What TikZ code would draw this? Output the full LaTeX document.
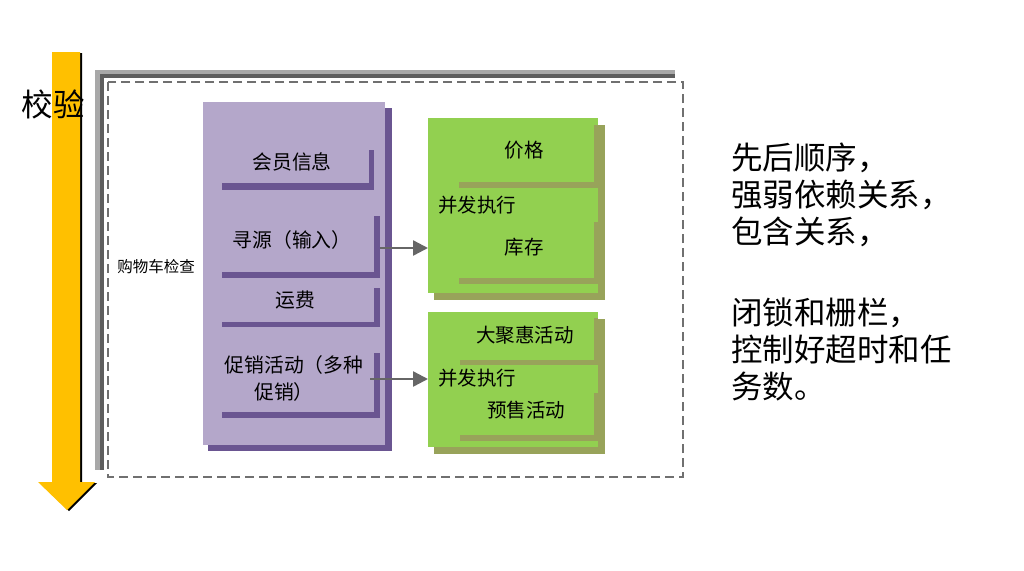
\documentclass[tikz,border=0pt]{standalone}
\usepackage{fontspec}
\newfontfamily\cjk{Noto Sans CJK SC}
\usetikzlibrary{arrows.meta}
\definecolor{gold}{HTML}{FFC000}
\definecolor{pfill}{HTML}{B4A7CA}
\definecolor{pdark}{HTML}{6A5591}
\definecolor{gfill}{HTML}{92D050}
\definecolor{gdark}{HTML}{98A35A}
\definecolor{frlight}{HTML}{A8A8A8}
\definecolor{frdark}{HTML}{5E5E5E}
\definecolor{dashcol}{HTML}{707070}
\definecolor{arrcol}{HTML}{666666}
\tikzset{
  lbl/.style={inner sep=0pt, font=\cjk\fontsize{19.8}{19.8}\selectfont},
  glbl/.style={inner sep=0pt, font=\cjk\fontsize{19.5}{19.5}\selectfont},
  side/.style={inner sep=0pt, anchor=west, font=\cjk\fontsize{31.5}{31.5}\selectfont},
  gbox/.style={fill=gfill, inner sep=0pt, anchor=north west, minimum width=170pt},
  pbox/.style={fill=pfill, inner sep=0pt, anchor=north west, minimum width=182pt, minimum height=343pt},
  conn/.style={draw=arrcol, line width=2.4pt, -{Triangle[length=15pt,width=15pt]}}
}
\begin{document}
\begin{tikzpicture}[x=1pt,y=-1pt]
\useasboundingbox (0,0) rectangle (1024,570);
\fill[white] (0,0) rectangle (1024,570);
% yellow arrow
\fill[black] ([shift={(2,1)}]52,52) -- ++(28,0) -- ++(0,430) -- ++(15,0) -- ++(-28,28) -- ++(-29,-28) -- ++(14,0) -- cycle;
\fill[gold] (52,52) -- (80,52) -- (80,482) -- (95,482) -- (67,510) -- (38,482) -- (52,482) -- cycle;
\node[inner sep=0pt, font=\cjk\fontsize{31.5}{31.5}\selectfont] (check) at (53,104) {校验};
% frame
\fill[frlight] (95,70) rectangle (675,74);
\fill[frlight] (95,70) rectangle (100,470);
\fill[frdark] (100,74) rectangle (675,78);
\fill[frdark] (100,74) rectangle (104,470);
\draw[dashcol, line width=2pt, dash pattern=on 9pt off 5pt] (108,82) rectangle (683,477);
\node[inner sep=0pt, font=\cjk\fontsize{15.5}{15.5}\selectfont] (cart) at (156,267) {购物车检查};
% purple block
\fill[pdark] (208,108) rectangle (392,451);
\node[pbox] (pb) at (203,102) {};
\fill[pdark] (222,183) rectangle (374,190);
\fill[pdark] (369,150) rectangle (374,190);
\fill[pdark] (222,272) rectangle (380,278);
\fill[pdark] (374,216) rectangle (380,278);
\fill[pdark] (222,322) rectangle (380,327);
\fill[pdark] (374,288) rectangle (380,327);
\fill[pdark] (222,412) rectangle (380,418);
\fill[pdark] (374,353) rectangle (380,418);
\node[lbl] (m1) at (292,162) {会员信息};
\node[lbl] (m2) at (292,240) {寻源（输入）};
\node[lbl] (m3) at (295,300) {运费};
\node[lbl] (m4a) at (294,365) {促销活动（多种};
\node[lbl] (m4b) at (284,392) {促销）};
% green block 1
\fill[gdark] (434,125) rectangle (605,300);
\node[gbox, minimum height=175pt] (g1) at (428,118) {};
\fill[gdark] (459,182) rectangle (598,188);
\fill[gdark] (594,125) rectangle (598,188);
\fill[gdark] (459,278) rectangle (598,284);
\fill[gdark] (594,222) rectangle (598,284);
\node[glbl] (t1) at (524,150) {价格};
\node[glbl] (t2) at (477,205) {并发执行};
\node[glbl] (t3) at (524,247) {库存};
% green block 2
\fill[gdark] (434,319) rectangle (605,454);
\node[gbox, minimum height=135pt] (g2) at (428,312) {};
\fill[gdark] (460,360) rectangle (598,365);
\fill[gdark] (594,318) rectangle (598,365);
\fill[gdark] (460,435) rectangle (598,441);
\fill[gdark] (594,393) rectangle (598,441);
\node[glbl] (u1) at (525,335) {大聚惠活动};
\node[glbl] (u2) at (477,378) {并发执行};
\node[glbl] (u3) at (526,410) {预售活动};
% connectors
\coordinate (a1) at (380,248);
\draw[conn] (a1) -- (a1 -| g1.west);
\coordinate (a2) at (370,379);
\draw[conn] (a2) -- (a2 -| g2.west);
% side text
\node[side] (r1) at (731,158) {先后顺序，};
\node[side] (r2) at (731,195) {强弱依赖关系，};
\node[side] (r3) at (731,232) {包含关系，};
\node[side] (r4) at (731,313) {闭锁和栅栏，};
\node[side] (r5) at (731,350) {控制好超时和任};
\node[side] (r6) at (731,387) {务数。};
\end{tikzpicture}
\end{document}
